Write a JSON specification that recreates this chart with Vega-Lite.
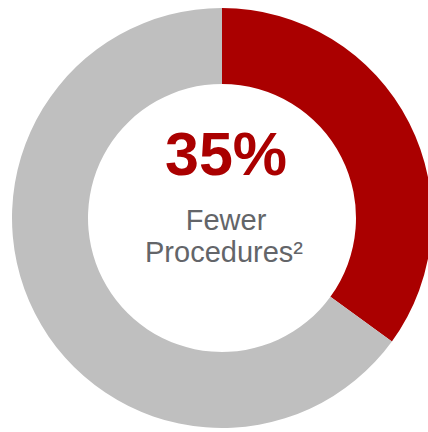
{
  "$schema": "https://vega.github.io/schema/vega-lite/v6.json",
  "width": 428,
  "height": 432,
  "autosize": {"type": "fit", "contains": "padding"},
  "padding": {"left": 16, "top": 4, "right": 0, "bottom": 0},
  "background": "white",
  "view": {"stroke": null},
  "layer": [
    {
      "data": {"values": [
        {"category": "Fewer Procedures", "value": 35, "order": 1},
        {"category": "Other", "value": 65, "order": 2}
      ]},
      "mark": {"type": "arc", "outerRadius": 210, "innerRadius": 134},
      "encoding": {
        "theta": {"field": "value", "type": "quantitative", "stack": true},
        "order": {"field": "order", "type": "quantitative"},
        "color": {
          "field": "category",
          "type": "nominal",
          "scale": {"domain": ["Fewer Procedures", "Other"], "range": ["#AA0000", "#BFBFBF"]},
          "legend": null
        }
      }
    },
    {
      "data": {"values": [{"label": "35%"}]},
      "mark": {"type": "text", "font": "Liberation Sans", "fontWeight": "bold", "fontSize": 61, "color": "#AA0000", "baseline": "alphabetic", "align": "center", "dy": -43, "dx": 4},
      "encoding": {"text": {"field": "label", "type": "nominal"}}
    },
    {
      "data": {"values": [{"label": "Fewer"}]},
      "mark": {"type": "text", "font": "Liberation Sans", "fontSize": 29, "color": "#636569", "baseline": "alphabetic", "align": "center", "dy": 12, "dx": 4},
      "encoding": {"text": {"field": "label", "type": "nominal"}}
    },
    {
      "data": {"values": [{"label": "Procedures²"}]},
      "mark": {"type": "text", "font": "Liberation Sans", "fontSize": 29, "color": "#636569", "baseline": "alphabetic", "align": "center", "dy": 44, "dx": 2},
      "encoding": {"text": {"field": "label", "type": "nominal"}}
    }
  ]
}
